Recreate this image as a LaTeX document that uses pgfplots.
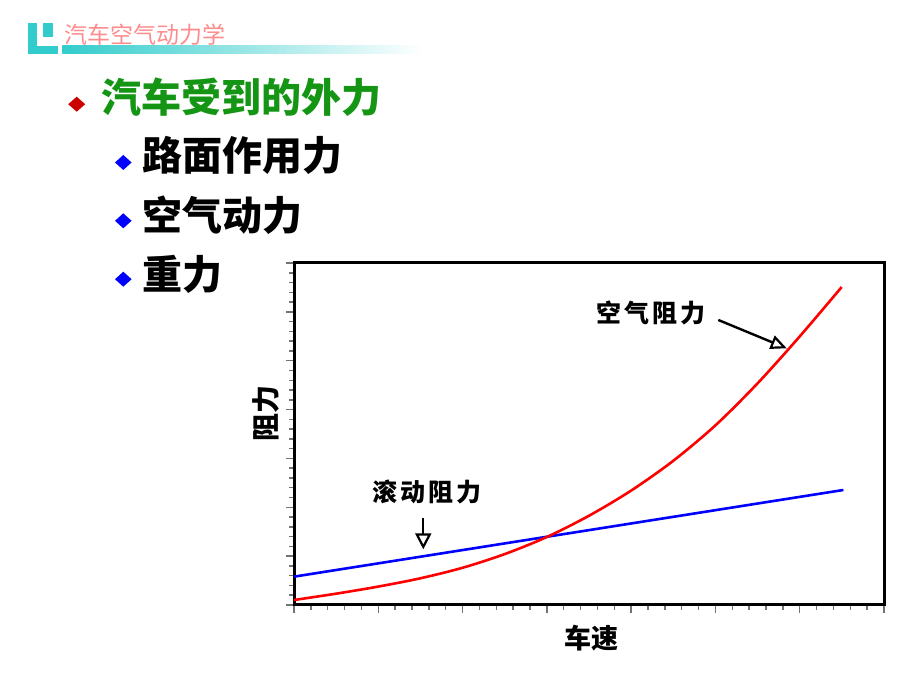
\documentclass[border=0pt]{standalone}
\usepackage{fontspec}
\usepackage{pgfplots}
\pgfplotsset{compat=1.18}
\usetikzlibrary{arrows.meta}
\newfontfamily\cjk{Noto Sans CJK SC}
\definecolor{hdrpink}{RGB}{255,140,140}
\definecolor{tealA}{RGB}{51,204,204}
\definecolor{greenA}{RGB}{20,150,20}
\definecolor{redA}{RGB}{204,0,0}
\definecolor{blueA}{RGB}{0,0,255}
\begin{document}
\begin{tikzpicture}
\path[use as bounding box, fill=white] (0pt,0pt) rectangle (920pt,690pt);
% header logo and bar
\fill[tealA] (28.3pt,636pt) rectangle (37pt,667.3pt);
\fill[tealA] (43.3pt,652.7pt) rectangle (53.3pt,667.3pt);
\fill[tealA] (28.3pt,636pt) rectangle (58.3pt,644pt);
\shade[left color=tealA, right color=white] (62.3pt,636pt) rectangle (423pt,644pt);
\node[anchor=base west, inner sep=0pt, text=hdrpink, font=\fontsize{23}{23}\selectfont\cjk] at (64pt,646.3pt) {汽车空气动力学};
% bullets
\fill[redA] (68.2pt,585.8pt) -- (76.7pt,593.3pt) -- (85.2pt,585.8pt) -- (76.7pt,578.3pt) -- cycle;
\node[anchor=base west, inner sep=0pt, text=greenA, font=\fontsize{40}{40}\selectfont\cjk\bfseries] at (101pt,577.3pt) {汽车受到的外力};
\foreach \yy in {527.5,469.2,410.8}{
  \fill[blueA] (115pt,\yy pt) -- (123.3pt,\yy pt+7.5pt) -- (131.6pt,\yy pt) -- (123.3pt,\yy pt-7.5pt) -- cycle;
}
\node[anchor=base west, inner sep=0pt, font=\fontsize{40}{40}\selectfont\cjk\bfseries] at (142pt,519.8pt) {路面作用力};
\node[anchor=base west, inner sep=0pt, font=\fontsize{40}{40}\selectfont\cjk\bfseries] at (142pt,459.3pt) {空气动力};
\node[anchor=base west, inner sep=0pt, font=\fontsize{40}{40}\selectfont\cjk\bfseries] at (142pt,400.3pt) {重力};
\begin{axis}[
  at={(294pt,85pt)}, anchor=south west,
  scale only axis, width=590pt, height=342pt,
  xmin=0, xmax=35, ymin=0, ymax=35,
  xtick={0,5,...,35}, ytick={0,5,...,35},
  minor x tick num=4, minor y tick num=4,
  xticklabels={}, yticklabels={},
  tick align=outside, xtick pos=left, ytick pos=left,
  major tick length=8pt, minor tick length=5pt,
  every tick/.style={black!55, line width=1.5pt},
  axis line style={line width=3pt},
  xlabel={车速}, ylabel={阻力},
  every axis x label/.style={at={(axis description cs:0.5046,-0.1266)}, anchor=base, font=\fontsize{27}{27}\selectfont\cjk\bfseries},
  every axis y label/.style={at={(axis description cs:-0.0295,0.5585)}, rotate=90, anchor=base, font=\fontsize{28}{28}\selectfont\cjk\bfseries},
]
\addplot[blueA, line width=2.6pt] coordinates {(0,2.90) (32.59,11.77)};
\addplot[red, line width=2.6pt, smooth] coordinates {
 (0,0.51) (2.5,1.16) (5,1.885) (7.5,2.735) (10,3.81) (12.5,5.21)
 (15,6.96) (17.5,9.135) (20,11.71) (22.5,14.76) (25,18.385)
 (27.5,22.685) (30,27.485) (32.49,32.54)};
\node[anchor=base, inner sep=0pt, font=\fontsize{25}{25}\selectfont\cjk\bfseries\addfontfeature{LetterSpace=12}] at (axis cs:21.18,28.86) {空气阻力};
\node[anchor=base, inner sep=0pt, font=\fontsize{25}{25}\selectfont\cjk\bfseries\addfontfeature{LetterSpace=12}] at (axis cs:7.87,10.62) {滚动阻力};
\draw[line width=2.4pt, -{Triangle[open, length=16pt, width=14pt, line width=2.2pt]}] (axis cs:25.17,29.17) -- (axis cs:29.23,26.27);
\draw[line width=2.4pt, -{Triangle[open, length=16pt, width=16pt, line width=2.2pt]}] (axis cs:7.67,8.87) -- (axis cs:7.67,5.70);
\end{axis}
\end{tikzpicture}
\end{document}
